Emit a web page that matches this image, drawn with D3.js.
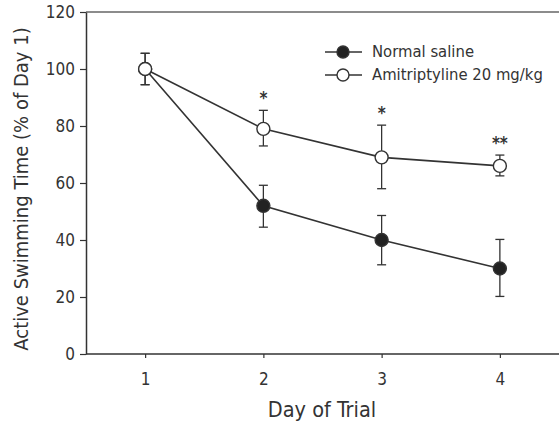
<!DOCTYPE html>
<html><head><meta charset="utf-8">
<script src="https://cdn.jsdelivr.net/npm/d3@7"></script>
<style>body{margin:0;background:#fff}svg{display:block}</style>
</head><body>
<script>
const days = [1, 2, 3, 4];
const yTicks = [0, 20, 40, 60, 80, 100, 120];
const salineMean = [100, 52, 40, 30];
const salineLow = [94.5, 44.5, 31.3, 20.2];
const salineHigh = [105.5, 59.2, 48.6, 40.2];
const amiMean = [100, 79, 69, 66];
const amiLow = [94.5, 73, 58, 62.5];
const amiHigh = [105.5, 85.5, 80.3, 69.8];
const stars = ["", "*", "*", "**"];
const seriesNames = ["Normal saline", "Amitriptyline 20 mg/kg"];

const W = 559, H = 434;
const svg = d3.select("body").append("svg").attr("width", W).attr("height", H);
const font = "'DejaVu Sans Condensed', 'DejaVu Sans', sans-serif";
const ink = "#333";

const x = d3.scaleLinear().domain([0.5, 4.5]).range([86, 559]);
const y = d3.scaleLinear().domain([0, 120]).range([354, 12]);

// top border
svg.append("line").attr("x1", 86).attr("x2", 559).attr("y1", y(120)).attr("y2", y(120))
  .attr("stroke", "#666").attr("stroke-width", 1.5);

const yAxis = svg.append("g").attr("transform", "translate(86,0)")
  .call(d3.axisLeft(y).tickValues(yTicks).tickSize(6).tickPadding(5).tickSizeOuter(0));
const xAxis = svg.append("g").attr("transform", "translate(0,354)")
  .call(d3.axisBottom(x).tickValues(days).tickFormat(d3.format("d")).tickSize(4).tickPadding(15).tickSizeOuter(0));
[yAxis, xAxis].forEach(a => {
  a.select(".domain").attr("stroke", ink).attr("stroke-width", 1.5);
  a.selectAll(".tick line").attr("stroke", ink).attr("stroke-width", 1.2);
  a.selectAll("text").attr("fill", ink).style("font-family", font).style("font-size", "17px");
});
xAxis.select(".domain").attr("d", "M86,0H559");

svg.append("text").attr("x", 322).attr("y", 417).attr("text-anchor", "middle")
  .attr("fill", ink).style("font-family", font).style("font-size", "21.5px").text("Day of Trial");
svg.append("text").attr("transform", "translate(28,189) rotate(-90)").attr("text-anchor", "middle")
  .attr("fill", ink).style("font-family", font).style("font-size", "20px")
  .text("Active Swimming Time (% of Day 1)");

const line = d3.line().x((d, i) => x(days[i])).y(d => y(d));
function series(mean, low, high, fill) {
  svg.append("path").attr("d", line(mean)).attr("fill", "none").attr("stroke", ink).attr("stroke-width", 1.6);
  const g = svg.append("g");
  days.forEach((d, i) => {
    const cx = x(d);
    g.append("line").attr("x1", cx).attr("x2", cx).attr("y1", y(low[i])).attr("y2", y(high[i])).attr("stroke", ink).attr("stroke-width", 1.3);
    [low[i], high[i]].forEach(v => g.append("line").attr("x1", cx - 4.5).attr("x2", cx + 4.5)
      .attr("y1", y(v)).attr("y2", y(v)).attr("stroke", ink).attr("stroke-width", 1.3));
  });
  days.forEach((d, i) => {
    svg.append("circle").attr("cx", x(d)).attr("cy", y(mean[i])).attr("r", 6.5)
      .attr("fill", fill).attr("stroke", ink).attr("stroke-width", 1.4);
  });
}
series(salineMean, salineLow, salineHigh, "#222");
series(amiMean, amiLow, amiHigh, "#fff");

days.forEach((d, i) => {
  if (stars[i]) svg.append("text").attr("x", x(d)).attr("y", y(amiHigh[i]) - 6)
    .attr("text-anchor", "middle").attr("fill", ink).style("font-family", font)
    .style("font-size", "17px").style("font-weight", "bold").text(stars[i]);
});

// legend
const legY = [52, 75], fills = ["#222", "#fff"];
seriesNames.forEach((n, i) => {
  svg.append("line").attr("x1", 325).attr("x2", 362).attr("y1", legY[i]).attr("y2", legY[i]).attr("stroke", ink).attr("stroke-width", 1.6);
  svg.append("circle").attr("cx", 343).attr("cy", legY[i]).attr("r", 6).attr("fill", fills[i]).attr("stroke", ink).attr("stroke-width", 1.4);
  svg.append("text").attr("x", 372).attr("y", legY[i] + 5).attr("fill", ink)
    .style("font-family", font).style("font-size", "16.5px").text(n);
});
</script>
</body></html>
